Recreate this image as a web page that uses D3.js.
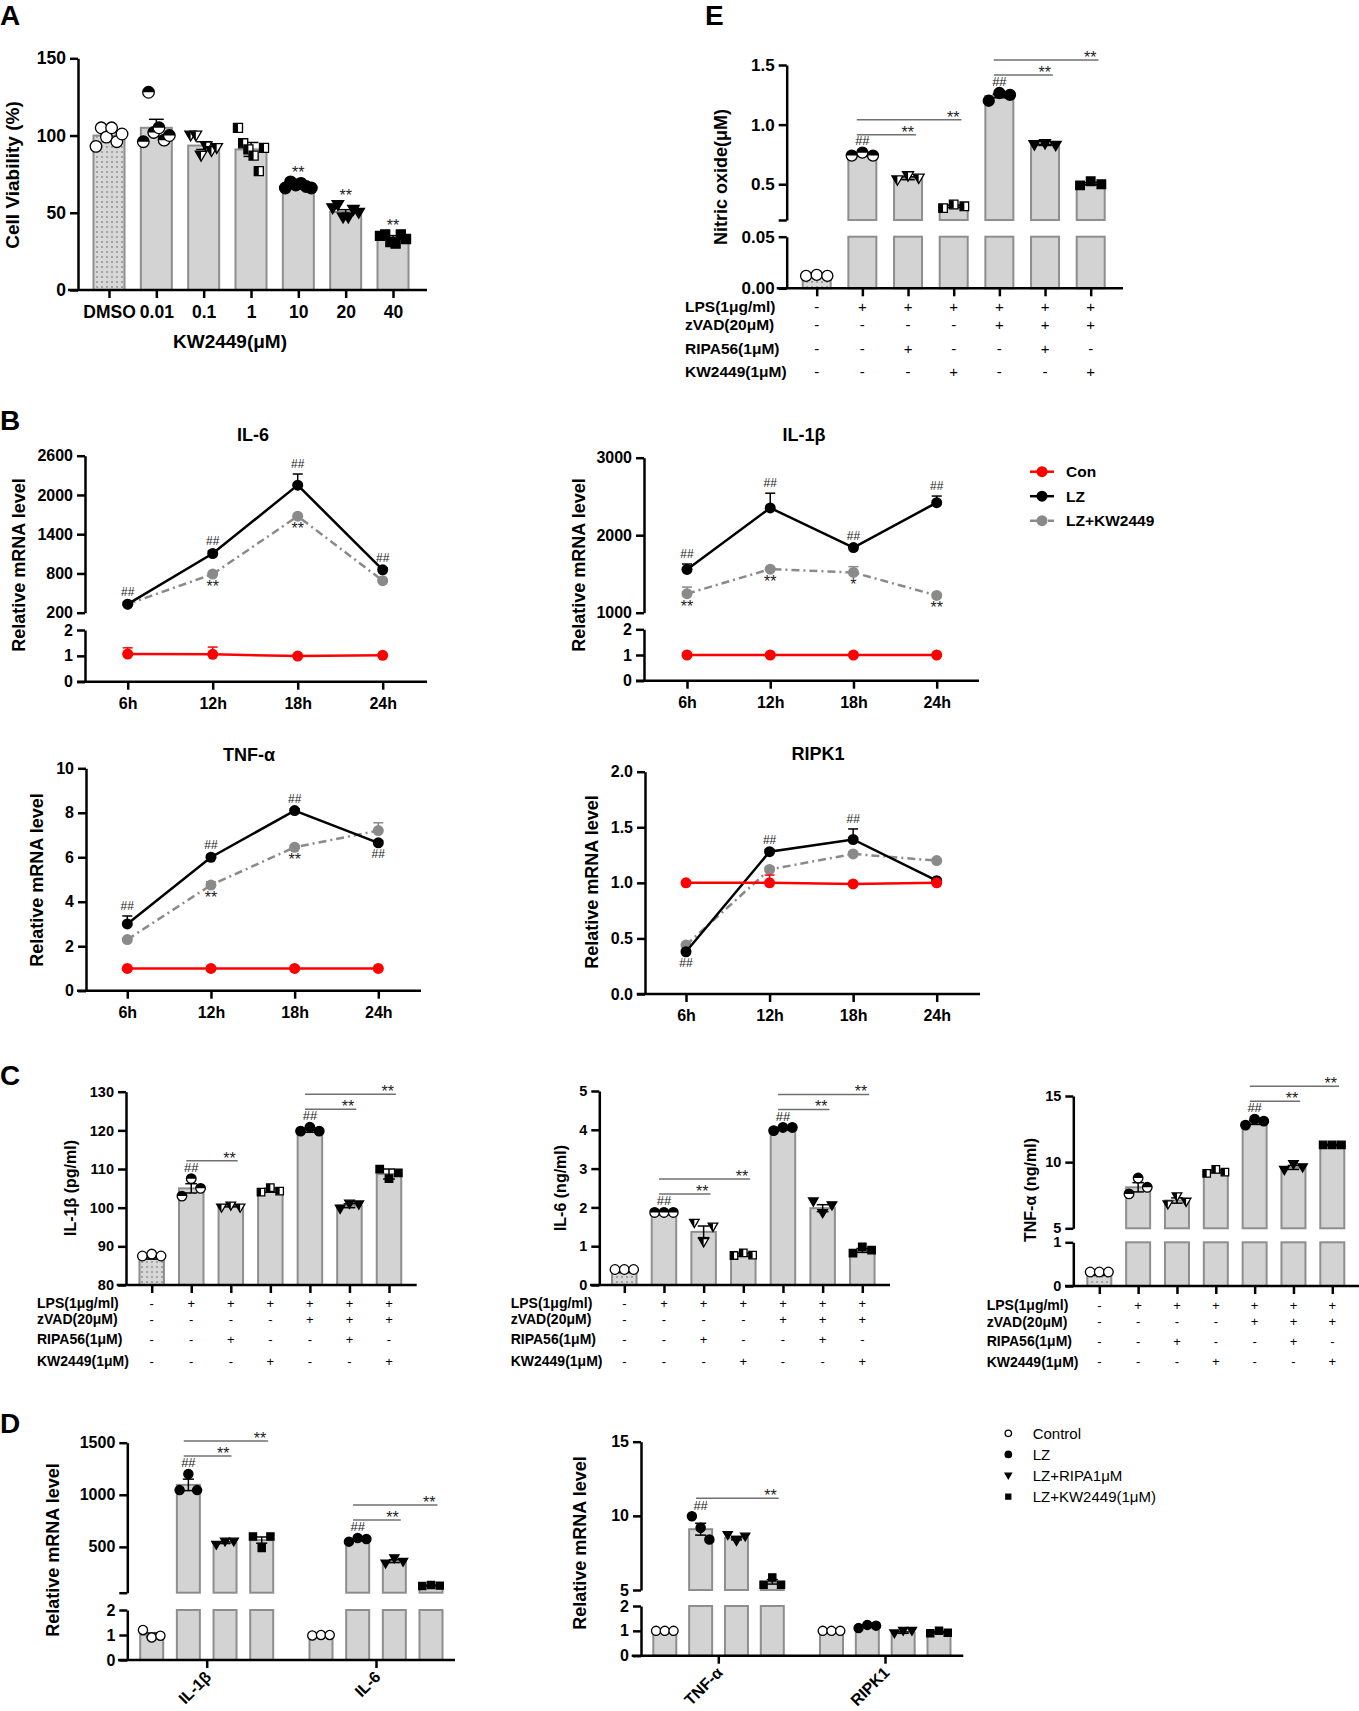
<!DOCTYPE html>
<html>
<head>
<meta charset="utf-8">
<script src="https://cdn.jsdelivr.net/npm/d3@7"></script>
<style>
body { margin: 0; background: #fff; }
</style>
</head>
<body>
<div id="fig"></div>
<script>
// ---------------- data ----------------
// panel A - cell viability
var aDoses = ["DMSO", "0.01", "0.1", "1", "10", "20", "40"];
var aMeans = [100, 105, 93.5, 91, 67.5, 50.5, 34];
var aErr = [2, 5.5, 2.5, 4.5, 0.8, 1.5, 1.2];
var aPoints = [
  [93, 105, 99, 105, 96, 101],
  [96, 128, 102, 105, 97, 100],
  [100, 100, 87, 93, 90, 92],
  [105, 95, 91, 87, 77, 92],
  [66, 70, 68, 69, 67, 66],
  [53, 55, 47, 47, 52, 50],
  [35, 36, 31, 30, 36, 33]
];
var aStars = ["", "", "", "", "**", "**", "**"];

// treatment table shared by E and C
var treatNames = ["LPS(1μg/ml)", "zVAD(20μM)", "RIPA56(1μM)", "KW2449(1μM)"];
var treatLps = ["-", "+", "+", "+", "+", "+", "+"];
var treatZvad = ["-", "-", "-", "-", "+", "+", "+"];
var treatRipa = ["-", "-", "+", "-", "-", "+", "-"];
var treatKw = ["-", "-", "-", "+", "-", "-", "+"];

// panel E - nitric oxide
var eMeans = [0.012, 0.745, 0.55, 0.315, 1.24, 0.83, 0.505];
var eErr = [0.001, 0.008, 0.012, 0.01, 0.015, 0.005, 0.01];
var ePoints = [[0.012, 0.013, 0.012], [0.74, 0.765, 0.74], [0.535, 0.57, 0.55], [0.30, 0.33, 0.315],
  [1.2, 1.265, 1.25], [0.83, 0.84, 0.825], [0.49, 0.525, 0.5]];
var eHash = ["", "##", "", "", "##", "", ""];
var eComps = [[1, 2], [1, 3], [4, 5], [4, 6]];

// panel B - time course
var bTimes = ["6h", "12h", "18h", "24h"];
var il6Con = [1.07, 1.06, 0.99, 1.02], il6ConErr = [0.24, 0.28, 0.02, 0.02];
var il6Lz = [330, 1105, 2150, 855], il6LzErr = [30, 40, 170, 30];
var il6Kw = [330, 790, 1675, 690], il6KwErr = [10, 20, 20, 15];
var il6LzMarks = ["##", "##", "##", "##"], il6KwMarks = ["", "**", "**", ""];

var il1bCon = [1, 1, 1, 1], il1bConErr = [0.02, 0.02, 0.02, 0.02];
var il1bLz = [1558, 2352, 1841, 2420], il1bLzErr = [70, 190, 20, 85];
var il1bKw = [1245, 1562, 1519, 1223], il1bKwErr = [85, 20, 75, 20];
var il1bLzMarks = ["##", "##", "##", "##"], il1bKwMarks = ["**", "**", "*", "**"];

var tnfCon = [1, 1, 1, 1], tnfConErr = [0.02, 0.02, 0.02, 0.02];
var tnfLz = [3.0, 6.0, 8.1, 6.65], tnfLzErr = [0.36, 0.08, 0.08, 0.1];
var tnfKw = [2.3, 4.75, 6.45, 7.2], tnfKwErr = [0.05, 0.15, 0.05, 0.35];
var tnfLzMarks = ["##", "##", "##", "##"], tnfKwMarks = ["", "**", "**", ""];

var ripkCon = [1.0, 1.0, 0.99, 1.0], ripkConErr = [0.01, 0.07, 0.01, 0.01];
var ripkLz = [0.38, 1.28, 1.39, 1.02], ripkLzErr = [0.01, 0.02, 0.095, 0.01];
var ripkKw = [0.44, 1.12, 1.26, 1.2], ripkKwErr = [0.01, 0.02, 0.02, 0.01];
var ripkLzMarks = ["##", "##", "##", ""], ripkKwMarks = ["", "", "", ""];

var bSeriesNames = ["Con", "LZ", "LZ+KW2449"];

// panel C - cytokines
var cIl1bMeans = [87, 105, 100.5, 104.5, 120, 100.5, 108.7];
var cIl1bErr = [0.3, 1.2, 0.3, 0.5, 0.5, 0.5, 1.3];
var cIl1bPoints = [[87.5, 88, 87.5], [103, 107.5, 105], [100, 100.5, 100], [104, 105.2, 104.3],
  [119.8, 120.8, 119.8], [99.7, 101, 100.8], [110, 107.5, 109]];
var cIl1bHash = ["", "##", "", "", "##", "", ""];
var cIl1bComps = [[1, 2], [4, 5], [4, 6]];

var cIl6Means = [0.33, 1.87, 1.37, 0.78, 4.03, 1.98, 0.89];
var cIl6Err = [0.01, 0.01, 0.15, 0.04, 0.03, 0.09, 0.05];
var cIl6Points = [[0.4, 0.4, 0.4], [1.87, 1.87, 1.87], [1.6, 1.1, 1.5], [0.76, 0.83, 0.77],
  [3.98, 4.06, 4.06], [2.15, 1.85, 2.05], [0.82, 0.98, 0.9]];
var cIl6Hash = ["", "##", "", "", "##", "", ""];
var cIl6Comps = [[1, 2], [1, 3], [4, 5], [4, 6]];

var cTnfMeans = [0.25, 8.1, 7.1, 9.3, 13.0, 9.6, 11.3];
var cTnfErr = [0.01, 0.35, 0.2, 0.1, 0.15, 0.15, 0.05];
var cTnfPoints = [[0.32, 0.32, 0.32], [7.6, 8.8, 8.1], [6.8, 7.4, 7.0], [9.15, 9.45, 9.25],
  [12.8, 13.25, 13.1], [9.4, 9.85, 9.6], [11.3, 11.3, 11.3]];
var cTnfHash = ["", "", "", "", "##", "", ""];
var cTnfComps = [[4, 5], [4, 6]];

// panel D - mRNA
var dSeries = ["Control", "LZ", "LZ+RIPA1μM", "LZ+KW2449(1μM)"];
var dGroupsL = ["IL-1β", "IL-6"];
var dMeansL = [[1.0, 1095, 540, 565], [1.0, 568, 363, 128]];
var dErrL = [[0.08, 55, 8, 30], [0.01, 10, 14, 3]];
var dPtsL = [[[1.2, 0.9, 0.97], [1045, 1200, 1045], [520, 550, 550], [600, 490, 600]],
  [[0.98, 1.0, 1.0], [550, 585, 575], [340, 390, 355], [125, 135, 128]]];
var dHashL = [["", "##", "", ""], ["", "##", "", ""]];
var dCompsL = [[1, 2], [1, 3], [5, 6], [5, 7]];

var dGroupsR = ["TNF-α", "RIPK1"];
var dMeansR = [[1.0, 9.1, 8.5, 5.55], [1.0, 1.19, 0.93, 0.94]];
var dErrR = [[0.01, 0.4, 0.12, 0.15], [0.01, 0.04, 0.03, 0.03]];
var dPtsR = [[[1, 1, 1], [9.97, 9.2, 8.4], [8.7, 8.3, 8.6], [5.35, 5.85, 5.35]],
  [[1, 1, 1], [1.11, 1.24, 1.21], [0.9, 1.0, 1.0], [0.9, 1.0, 0.92]]];
var dHashR = [["", "##", "", ""], ["", "", "", ""]];
var dCompsR = [[1, 3]];

// ---------------- drawing ----------------
var FONT = "Arial, 'Liberation Sans', Helvetica, sans-serif";
var BAR_FILL = "#d3d3d3", BAR_STROKE = "#8e8e8e";
var sixMarkers = ["circleOpen", "circleHalf", "triHalf", "squareHalf", "circle", "tri", "square"];
var dMarkers = ["circleOpen", "circle", "tri", "square"];

var svg = d3.select("#fig").append("svg").attr("width", 1359).attr("height", 1711)
  .attr("font-family", FONT);
var defs = svg.append("defs");
var pat = defs.append("pattern").attr("id", "dots").attr("width", 5).attr("height", 5)
  .attr("patternUnits", "userSpaceOnUse");
pat.append("rect").attr("width", 5).attr("height", 5).attr("fill", "#d8d8d8");
pat.append("circle").attr("cx", 2).attr("cy", 2).attr("r", 0.75).attr("fill", "#555");
defs.append("clipPath").attr("id", "halfTop").attr("clipPathUnits", "objectBoundingBox")
  .append("rect").attr("width", 1).attr("height", 0.5);
defs.append("clipPath").attr("id", "halfLeft").attr("clipPathUnits", "objectBoundingBox")
  .append("rect").attr("width", 0.5).attr("height", 1);

function broken(segs) {
  segs.forEach(function (s) { s.scale = d3.scaleLinear().domain(s.domain).range(s.range); });
  return function (v) {
    for (var i = segs.length - 1; i > 0; i--) if (v >= segs[i].domain[0]) return segs[i].scale(v);
    return segs[0].scale(segs.length > 1 ? Math.min(v, segs[0].domain[1]) : v);
  };
}

function styleTicks(a, fs) {
  a.attr("font-family", FONT).attr("font-size", fs);
  a.selectAll(".tick line").attr("stroke", "#000").attr("stroke-width", 2.5);
  a.selectAll(".tick text").attr("fill", "#000").attr("font-weight", "bold");
}

function yAxis(g, segs, ax, fs) {
  segs.forEach(function (s) {
    var a = g.append("g").attr("transform", "translate(" + ax + ",0)")
      .call(d3.axisLeft(s.scale).tickValues(s.ticks).tickSize(8).tickSizeOuter(0).tickPadding(4)
        .tickFormat(s.fmt || d3.format("")));
    a.select(".domain").attr("stroke", "#000").attr("stroke-width", 2.5);
    styleTicks(a, fs);
  });
}

function xAxis(g, x, y0, x0, x1, fs, fmt) {
  g.append("line").attr("x1", x0).attr("x2", x1).attr("y1", y0).attr("y2", y0)
    .attr("stroke", "#000").attr("stroke-width", 2.5);
  var a = g.append("g").attr("transform", "translate(0," + y0 + ")")
    .call(d3.axisBottom(x).tickSize(8).tickPadding(8).tickFormat(fmt || null));
  a.select(".domain").remove();
  styleTicks(a, fs);
  return a;
}

function vtitle(g, text, x, y, fs) {
  g.append("text").attr("transform", "translate(" + x + "," + y + ") rotate(-90)")
    .attr("text-anchor", "middle").attr("font-size", fs).attr("font-weight", "bold").text(text);
}

function letter(t, x, y) {
  svg.append("text").attr("x", x).attr("y", y).attr("font-size", 28).attr("font-weight", "bold").text(t);
}

function markerPath(shape, r) {
  if (shape === "circle") return d3.symbol(d3.symbolCircle, Math.PI * r * r)();
  if (shape === "tri") return "M" + (-r) + "," + (-0.75 * r) + "L" + r + "," + (-0.75 * r) + "L0," + (0.95 * r) + "Z";
  var h = 0.78 * r;
  return "M" + (-h) + "," + (-h) + "H" + h + "V" + h + "H" + (-h) + "Z";
}

function marker(g, type, x, y, r) {
  var shape = type.replace("Open", "").replace("Half", "");
  var d = markerPath(shape, r);
  var t = "translate(" + x + "," + y + ")";
  g.append("path").attr("d", d).attr("transform", t)
    .attr("fill", type === shape ? "#000" : "#fff").attr("stroke", "#000").attr("stroke-width", 1.3);
  if (type.indexOf("Half") >= 0) {
    g.append("path").attr("d", d).attr("transform", t).attr("fill", "#000")
      .attr("clip-path", shape === "circle" ? "url(#halfTop)" : "url(#halfLeft)");
  }
}

function topPx(b, y) {
  return Math.min(y(d3.max(b.pts)), y(b.mean + b.err));
}

function drawBars(g, bars, y, segs, bw, r) {
  bars.forEach(function (b) {
    segs.forEach(function (s) {
      if (b.mean <= s.domain[0]) return;
      var top = s.scale(Math.min(b.mean, s.domain[1]));
      g.append("rect").attr("x", b.x - bw / 2).attr("y", top).attr("width", bw)
        .attr("height", s.range[0] - top)
        .attr("fill", b.dotted ? "url(#dots)" : BAR_FILL)
        .attr("stroke", BAR_STROKE).attr("stroke-width", 2);
    });
  });
  bars.forEach(function (b) {
    var y0 = y(b.mean - b.err), y1 = y(b.mean + b.err), cw = bw * 0.24;
    g.append("line").attr("x1", b.x).attr("x2", b.x).attr("y1", y0).attr("y2", y1)
      .attr("stroke", "#000").attr("stroke-width", 1.5);
    [y0, y1].forEach(function (yy) {
      g.append("line").attr("x1", b.x - cw).attr("x2", b.x + cw).attr("y1", yy).attr("y2", yy)
        .attr("stroke", "#000").attr("stroke-width", 1.5);
    });
  });
  bars.forEach(function (b) {
    var n = b.pts.length;
    b.pts.forEach(function (v, k) {
      var dx = (k - (n - 1) / 2) / ((n - 1) / 2) * bw * (n > 3 ? 0.42 : 0.38);
      marker(g, b.marker, b.x + dx, y(v), r);
    });
  });
  bars.forEach(function (b) {
    if (b.hash) {
      g.append("text").attr("x", b.x).attr("y", topPx(b, y) - r - 2).attr("text-anchor", "middle")
        .attr("font-size", 13).attr("fill", "#222").text(b.hash);
    }
    if (b.star) {
      g.append("text").attr("x", b.x).attr("y", topPx(b, y) - r + 2).attr("text-anchor", "middle")
        .attr("font-size", 16).attr("fill", "#222").text(b.star);
    }
  });
}

function drawSig(g, bars, y, comps, bw) {
  var level = {};
  comps.forEach(function (c) {
    var f = c[0], t = c[1];
    var lv = level[f] || 0;
    level[f] = lv + 1;
    var ly = topPx(bars[f], y) - 18 - lv * 15;
    var x1 = bars[f].x - bw * 0.2, x2 = bars[t].x + bw * 0.28;
    g.append("line").attr("x1", x1).attr("x2", x2).attr("y1", ly).attr("y2", ly)
      .attr("stroke", "#707070").attr("stroke-width", 1.5);
    g.append("text").attr("x", x2 - 2).attr("y", ly + 3).attr("text-anchor", "end")
      .attr("font-size", 16).attr("fill", "#222").text("**");
  });
}

function treatRows(g, x, labelX, rowsY, fsLab, fsSign) {
  var rows = [treatLps, treatZvad, treatRipa, treatKw];
  rows.forEach(function (r, k) {
    g.append("text").attr("x", labelX).attr("y", rowsY[k]).attr("dy", "0.35em")
      .attr("font-size", fsLab).attr("font-weight", "bold").text(treatNames[k]);
    r.forEach(function (s, i) {
      g.append("text").attr("x", x(i)).attr("y", rowsY[k]).attr("dy", "0.35em")
        .attr("text-anchor", "middle").attr("font-size", fsSign).text(s);
    });
  });
}

// simple (one bar per category) panel
function barPanel(o) {
  var g = svg.append("g");
  var y = broken(o.segs);
  var x = d3.scalePoint().domain(o.cats).range(o.xr);
  var bars = o.means.map(function (m, i) {
    return { x: x(o.cats[i]), mean: m, err: o.err[i], pts: o.pts[i], marker: sixMarkers[i],
      dotted: i === 0, hash: o.hash ? o.hash[i] : "", star: o.stars ? o.stars[i] : "" };
  });
  drawBars(g, bars, y, o.segs, o.bw, o.r);
  yAxis(g, o.segs, o.ax, o.fs);
  xAxis(g, x, o.segs[0].range[0], o.xa[0], o.xa[1], o.fs, o.labels ? null : function () { return ""; });
  if (o.comps) drawSig(g, bars, y, o.comps, o.bw);
  vtitle(g, o.ytitle, o.yt[0], o.yt[1], o.yfs);
  if (o.rows) treatRows(g, function (i) { return x(o.cats[i]); }, o.rows.x, o.rows.y, o.rows.fs, o.rows.fss);
  return g;
}

// grouped panel D
function groupedPanel(o) {
  var g = svg.append("g");
  var y = broken(o.segs);
  var gx = d3.scalePoint().domain(o.groups).range(o.gr);
  var sx = d3.scalePoint().domain(dSeries).range(o.sr);
  var bars = [];
  o.groups.forEach(function (gn, gi) {
    dSeries.forEach(function (sn, si) {
      bars.push({ x: gx(gn) + sx(sn), mean: o.means[gi][si], err: o.errs[gi][si], pts: o.pts[gi][si],
        marker: dMarkers[si], dotted: false, hash: o.hash[gi][si] });
    });
  });
  drawBars(g, bars, y, o.segs, o.bw, 4.6);
  yAxis(g, o.segs, o.ax, 16);
  var a = xAxis(g, gx, o.segs[0].range[0], o.xa[0], o.xa[1], 16);
  a.selectAll(".tick text").attr("y", 0).attr("dy", 0).attr("transform", "translate(5,18) rotate(-45)")
    .style("text-anchor", "end");
  drawSig(g, bars, y, o.comps, o.bw);
  vtitle(g, "Relative mRNA level", o.yt[0], o.yt[1], 18);
}

// time course panel B
function lineChart(o) {
  var g = svg.append("g");
  var y = broken(o.segs);
  var x = d3.scalePoint().domain(bTimes).range(o.xr);
  yAxis(g, o.segs, o.ax, 16);
  xAxis(g, x, o.segs[0].range[0], o.xa[0], o.xa[1], 16);
  g.append("text").attr("x", o.title[1]).attr("y", o.title[2]).attr("text-anchor", "middle")
    .attr("font-size", 18).attr("font-weight", "bold").text(o.title[0]);
  vtitle(g, "Relative mRNA level", o.yt[0], o.yt[1], 18);
  var series = [
    { v: o.kw, e: o.kwErr, c: "#8a8a8a", dash: "8,4,2,4" },
    { v: o.lz, e: o.lzErr, c: "#000" },
    { v: o.con, e: o.conErr, c: "#ff0000" }
  ];
  series.forEach(function (s) {
    g.append("path").datum(s.v)
      .attr("d", d3.line().x(function (d, i) { return x(bTimes[i]); }).y(function (d) { return y(d); }))
      .attr("fill", "none").attr("stroke", s.c).attr("stroke-width", 2.5)
      .attr("stroke-dasharray", s.dash || null);
    s.v.forEach(function (d, i) {
      var xx = x(bTimes[i]), yt = y(d + s.e[i]);
      g.append("line").attr("x1", xx).attr("x2", xx).attr("y1", y(d)).attr("y2", yt)
        .attr("stroke", s.c).attr("stroke-width", 1.5);
      g.append("line").attr("x1", xx - 5).attr("x2", xx + 5).attr("y1", yt).attr("y2", yt)
        .attr("stroke", s.c).attr("stroke-width", 1.5);
      g.append("circle").attr("cx", xx).attr("cy", y(d)).attr("r", 5.5).attr("fill", s.c);
    });
  });
  o.lzMarks.forEach(function (t, i) {
    if (!t) return;
    var below = o.lzBelow.indexOf(i) >= 0;
    var yy = below ? y(o.lz[i]) + 15 : y(o.lz[i] + o.lzErr[i]) - 6;
    g.append("text").attr("x", x(bTimes[i])).attr("y", yy).attr("text-anchor", "middle")
      .attr("font-size", 12).attr("fill", "#222").text(t);
  });
  o.kwMarks.forEach(function (t, i) {
    if (!t) return;
    g.append("text").attr("x", x(bTimes[i])).attr("y", y(o.kw[i]) + 18).attr("text-anchor", "middle")
      .attr("font-size", 16).attr("fill", "#222").text(t);
  });
}

// ---- panel A ----
letter("A", 0, 25);
var gA = barPanel({
  cats: aDoses, means: aMeans, err: aErr, pts: aPoints, stars: aStars,
  segs: [{ domain: [0, 150], range: [290, 58.3], ticks: [0, 50, 100, 150] }],
  xr: [109, 393], bw: 31, r: 5.8, ax: 78, xa: [68, 427], fs: 17.5, labels: true,
  ytitle: "Cell Viability (%)", yt: [19, 175], yfs: 19
});
gA.append("text").attr("x", 230).attr("y", 348).attr("text-anchor", "middle")
  .attr("font-size", 19).attr("font-weight", "bold").text("KW2449(μM)");

// ---- panel E ----
letter("E", 705, 25);
barPanel({
  cats: d3.range(7), means: eMeans, err: eErr, pts: ePoints, hash: eHash, comps: eComps,
  segs: [
    { domain: [0, 0.05], range: [288.3, 236.7], ticks: [0, 0.05], fmt: d3.format(".2f") },
    { domain: [0.2, 1.5], range: [220, 65], ticks: [0.2, 0.5, 1.0, 1.5],
      fmt: function (d) { return d < 0.3 ? "" : d3.format(".1f")(d); } }
  ],
  xr: [816.7, 1090.7], bw: 28, r: 5.5, ax: 786.7, xa: [776.7, 1123], fs: 17,
  ytitle: "Nitric oxide(μM)", yt: [727, 177], yfs: 18,
  rows: { x: 685, y: [306.7, 325, 348.3, 371.7], fs: 15.5, fss: 15 }
});

// ---- panel B ----
letter("B", 0, 430);
lineChart({
  title: ["IL-6", 253, 441], yt: [25, 565], ax: 85, xa: [77, 427], xr: [127.7, 382.7],
  segs: [
    { domain: [0, 2], range: [681.7, 630], ticks: [0, 1, 2] },
    { domain: [200, 2600], range: [612.7, 455.7], ticks: [200, 800, 1400, 2000, 2600] }
  ],
  con: il6Con, conErr: il6ConErr, lz: il6Lz, lzErr: il6LzErr, kw: il6Kw, kwErr: il6KwErr,
  lzMarks: il6LzMarks, lzBelow: [], kwMarks: il6KwMarks
});
lineChart({
  title: ["IL-1β", 804, 441], yt: [585, 565], ax: 644, xa: [636, 979], xr: [687, 936.7],
  segs: [
    { domain: [0, 2], range: [680.7, 629.3], ticks: [0, 1, 2] },
    { domain: [1000, 3000], range: [612.7, 457.7], ticks: [1000, 2000, 3000] }
  ],
  con: il1bCon, conErr: il1bConErr, lz: il1bLz, lzErr: il1bLzErr, kw: il1bKw, kwErr: il1bKwErr,
  lzMarks: il1bLzMarks, lzBelow: [], kwMarks: il1bKwMarks
});
lineChart({
  title: ["TNF-α", 249, 761], yt: [43, 880], ax: 86, xa: [77, 421], xr: [127.3, 378.3],
  segs: [{ domain: [0, 10], range: [990.7, 768.3], ticks: [0, 2, 4, 6, 8, 10] }],
  con: tnfCon, conErr: tnfConErr, lz: tnfLz, lzErr: tnfLzErr, kw: tnfKw, kwErr: tnfKwErr,
  lzMarks: tnfLzMarks, lzBelow: [3], kwMarks: tnfKwMarks
});
lineChart({
  title: ["RIPK1", 818, 760], yt: [598, 882], ax: 645, xa: [636.7, 980], xr: [686, 936.7],
  segs: [{ domain: [0, 2], range: [994, 771.7], ticks: [0, 0.5, 1, 1.5, 2], fmt: d3.format(".1f") }],
  con: ripkCon, conErr: ripkConErr, lz: ripkLz, lzErr: ripkLzErr, kw: ripkKw, kwErr: ripkKwErr,
  lzMarks: ripkLzMarks, lzBelow: [0], kwMarks: ripkKwMarks
});

// legend B
var legB = svg.append("g");
var legStyles = [{ c: "#ff0000" }, { c: "#000" }, { c: "#8a8a8a", dash: "8,4,2,4" }];
var legY = d3.scalePoint().domain(bSeriesNames).range([471.7, 520.7]);
bSeriesNames.forEach(function (n, i) {
  var yy = legY(n);
  legB.append("line").attr("x1", 1030).attr("x2", 1054).attr("y1", yy).attr("y2", yy)
    .attr("stroke", legStyles[i].c).attr("stroke-width", 2.5).attr("stroke-dasharray", legStyles[i].dash || null);
  legB.append("circle").attr("cx", 1042).attr("cy", yy).attr("r", 5.5).attr("fill", legStyles[i].c);
  legB.append("text").attr("x", 1066).attr("y", yy).attr("dy", "0.35em")
    .attr("font-size", 15.5).attr("font-weight", "bold").text(n);
});

// ---- panel C ----
letter("C", 0, 1085);
barPanel({
  cats: d3.range(7), means: cIl1bMeans, err: cIl1bErr, pts: cIl1bPoints, hash: cIl1bHash, comps: cIl1bComps,
  segs: [{ domain: [80, 130], range: [1285, 1091.7], ticks: [80, 90, 100, 110, 120, 130] }],
  xr: [151.7, 389], bw: 24.5, r: 4.8, ax: 126, xa: [116.7, 416.7], fs: 14.5,
  ytitle: "IL-1β (pg/ml)", yt: [76, 1188], yfs: 16,
  rows: { x: 37, y: [1303.3, 1319.3, 1339.3, 1361], fs: 14, fss: 13 }
});
barPanel({
  cats: d3.range(7), means: cIl6Means, err: cIl6Err, pts: cIl6Points, hash: cIl6Hash, comps: cIl6Comps,
  segs: [{ domain: [0, 5], range: [1285, 1091], ticks: [0, 1, 2, 3, 4, 5] }],
  xr: [624.3, 862.3], bw: 24.5, r: 4.8, ax: 599.3, xa: [590, 890], fs: 14.5,
  ytitle: "IL-6 (ng/ml)", yt: [566, 1188], yfs: 16,
  rows: { x: 510.7, y: [1303.3, 1319.3, 1339.3, 1361], fs: 14, fss: 13 }
});
barPanel({
  cats: d3.range(7), means: cTnfMeans, err: cTnfErr, pts: cTnfPoints, hash: cTnfHash, comps: cTnfComps,
  segs: [
    { domain: [0, 1], range: [1286, 1242.3], ticks: [0, 1] },
    { domain: [5, 15], range: [1228.3, 1096], ticks: [5, 10, 15] }
  ],
  xr: [1099.3, 1332.3], bw: 24, r: 4.8, ax: 1073.3, xa: [1065, 1359], fs: 14.5,
  ytitle: "TNF-α (ng/ml)", yt: [1036, 1190], yfs: 16,
  rows: { x: 986.7, y: [1305, 1321.7, 1341, 1361.7], fs: 14, fss: 13 }
});

// ---- panel D ----
letter("D", 0, 1433);
groupedPanel({
  groups: dGroupsL, means: dMeansL, errs: dErrL, pts: dPtsL, hash: dHashL, comps: dCompsL,
  segs: [
    { domain: [0, 2], range: [1660, 1610], ticks: [0, 1, 2] },
    { domain: [60, 1500], range: [1592.7, 1442.7], ticks: [60, 500, 1000, 1500],
      fmt: function (d) { return d < 100 ? "" : d; } }
  ],
  gr: [206.7, 376], sr: [-55, 55], bw: 23, ax: 127.3, xa: [118, 455], yt: [59, 1550]
});
groupedPanel({
  groups: dGroupsR, means: dMeansR, errs: dErrR, pts: dPtsR, hash: dHashR, comps: dCompsR,
  segs: [
    { domain: [0, 2], range: [1655.7, 1606], ticks: [0, 1, 2] },
    { domain: [5, 15], range: [1590, 1441.7], ticks: [5, 10, 15] }
  ],
  gr: [718.3, 885], sr: [-53.5, 54], bw: 23, ax: 641, xa: [631.7, 963.3], yt: [586, 1543]
});

// legend D
var legD = svg.append("g");
var legDY = d3.scalePoint().domain(dSeries).range([1433.3, 1496.7]);
dSeries.forEach(function (n, i) {
  marker(legD, dMarkers[i], 1008.3, legDY(n), 3.2);
  legD.append("text").attr("x", 1032.7).attr("y", legDY(n)).attr("dy", "0.35em")
    .attr("font-size", 15).text(n);
});
</script>
</body>
</html>
